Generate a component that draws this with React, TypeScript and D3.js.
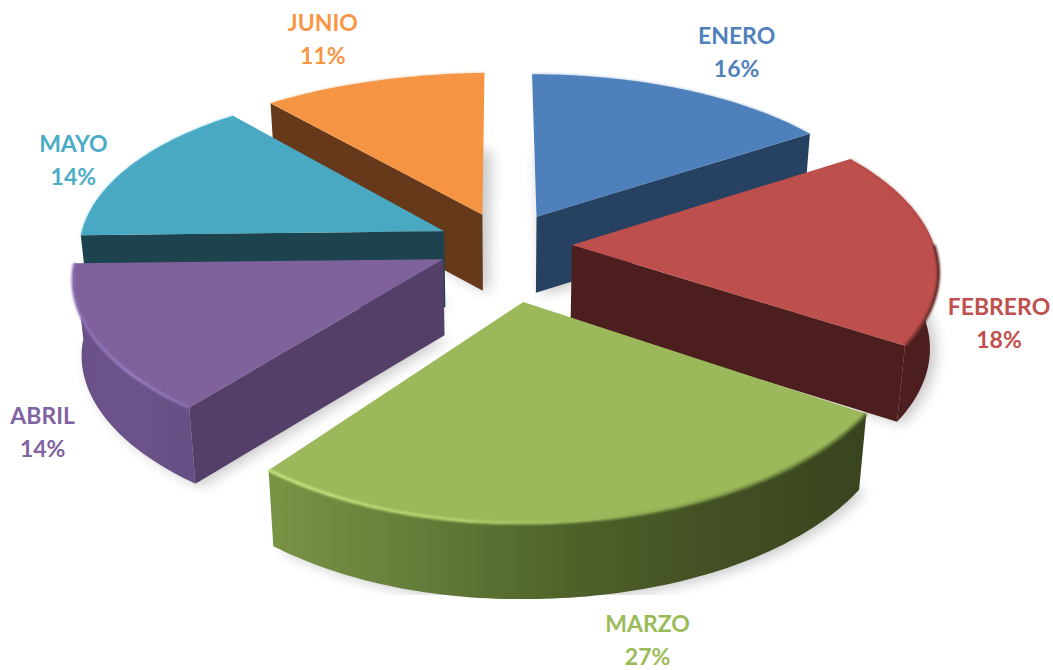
import React from "react";
import * as d3 from "d3";

const months = ["ENERO", "FEBRERO", "MARZO", "ABRIL", "MAYO", "JUNIO"];
const shares = [16, 18, 27, 14, 14, 11];

const explode = [0.185, 0.185, 0.31, 0.185, 0.185, 0.185];
const squash = [1, 0.98, 1, 0.94, 1, 1];
const topColors = ["#4e80bb", "#bd4f4c", "#9bb95a", "#7f619b", "#49a9c3", "#f59543"];
const labelColors = ["#4f81bd", "#c0504d", "#9bbb59", "#8064a2", "#4bacc6", "#f79646"];
const wallColors = ["#264161", "#4d1e1e", "#4a5c28", "#533f68", "#1d444e", "#66391a"];
const outerStops = [
  ["#264161", "#264161"],
  ["#4d1e1e", "#4d1e1e"],
  ["#7a9445", "#647d3a", "#4f6229", "#434f24", "#38441e"],
  ["#6a5088", "#6c5389", "#664f84"],
  ["#1d444e", "#1d444e"],
  ["#66391a", "#66391a"],
];
const rimStops = [
  ["#4e80bb", "#4e80bb"],
  ["#7d3533", "#5a2523"],
  ["#c8e680", "#b4d26e", "#88a44c", "#5c7030"],
  ["#8a6db0", "#9a7cc0", "#8a6dae"],
  ["#49a9c3", "#49a9c3"],
  ["#f59543", "#f59543"],
];
const backRim = ["#5b8cc6", "#7a2f2d", "", "", "#55c0dc", "#e8a468"];
const labelNudge: [number, number][] = [
  [55, -37],
  [65, 78],
  [55, 120],
  [-53, 92],
  [-57, -6],
  [-50, -42],
];
const drawOrder = [5, 0, 4, 1, 3, 2];

const W = 1053;
const H = 670;
const cx = 505;
const cy = 245;
const A_RIGHT = 362;
const A_LEFT = 366;
const K_RIGHT = 0.14;
const K_LEFT = 0.09;
const B = 178;
const KY = 0.15;
const TILT = 4;
const DEPTH = 76;
const BOTTOM_SCALE = 0.98;

const pie = d3.pie<number>().sort(null).startAngle(0).endAngle(2 * Math.PI);
const arcs = pie(shares);
const lineGen = d3.line<[number, number]>().x((d) => d[0]).y((d) => d[1]);

function project(i: number, theta: number, r: number, dz = 0): [number, number] {
  const a = arcs[i];
  const m = (a.startAngle + a.endAngle) / 2;
  const u = explode[i] * Math.sin(m) + r * Math.sin(theta);
  const v = -explode[i] * Math.cos(m) - r * squash[i] * Math.cos(theta);
  const x = u >= 0 ? u * A_RIGHT * (1 + K_RIGHT * v) : u * A_LEFT * (1 + K_LEFT * v);
  const y = v * B * (1 + KY * v) + TILT * r * Math.max(0, -Math.sin(theta));
  return [cx + x * (dz > 0 ? BOTTOM_SCALE : 1), cy + y + dz];
}

function rim(i: number, t0: number, t1: number, dz = 0): [number, number][] {
  const n = Math.max(2, Math.ceil(Math.abs(t1 - t0) / 0.02));
  return d3.range(n + 1).map((k) => project(i, t0 + ((t1 - t0) * k) / n, 1, dz));
}

function sectorPath(i: number, dz = 0): string {
  const a = arcs[i];
  const pts = [project(i, a.startAngle, 0, dz), ...rim(i, a.startAngle, a.endAngle, dz)];
  return lineGen(pts)! + "Z";
}

function radialWall(i: number, theta: number): string {
  const pts = [
    project(i, theta, 0),
    project(i, theta, 1),
    project(i, theta, 1, DEPTH),
    project(i, theta, 0, DEPTH),
  ];
  return lineGen(pts)! + "Z";
}

function frontRange(i: number): [number, number] | null {
  const a = arcs[i];
  const t0 = Math.max(a.startAngle, Math.PI / 2);
  const t1 = Math.min(a.endAngle, (3 * Math.PI) / 2);
  return t1 > t0 ? [t0, t1] : null;
}

function Slice({ i }: { i: number }) {
  const a = arcs[i];
  const range = frontRange(i);
  const walls: number[] = [];
  if (Math.sin(a.startAngle) < -1e-6) walls.push(a.startAngle);
  if (Math.sin(a.endAngle) > 1e-6) walls.push(a.endAngle);
  return (
    <g>
      {walls.map((t) => (
        <path key={t} d={radialWall(i, t)} fill={wallColors[i]} />
      ))}
      {range && (
        <path
          d={
            lineGen([
              ...rim(i, range[0], range[1]),
              ...rim(i, range[1], range[0], DEPTH),
            ])! + "Z"
          }
          fill={`url(#outer${i})`}
        />
      )}
      <path d={sectorPath(i)} fill={topColors[i]} />
      {backRim[i] && (
        <path
          d={lineGen(rim(i, a.startAngle, Math.min(a.endAngle, range ? range[0] : a.endAngle)))!}
          fill="none"
          stroke={backRim[i]}
          strokeWidth={1}
          opacity={0.7}
          filter="url(#soft)"
        />
      )}
      {range && (
        <path
          d={lineGen(rim(i, range[0], range[1]))!}
          fill="none"
          stroke={`url(#rim${i})`}
          strokeWidth={3}
          filter="url(#soft)"
        />
      )}
    </g>
  );
}

export default function App() {
  const defs = arcs.map((_, i) => {
    const r = frontRange(i);
    const xs = r ? rim(i, r[0], r[1]).map((p) => p[0]) : [0, 1];
    const x1 = d3.min(xs)!;
    const x2 = d3.max(xs)!;
    const grad = (id: string, stops: string[]) => (
      <linearGradient key={id} id={id} gradientUnits="userSpaceOnUse" x1={x1} x2={x2} y1={0} y2={0}>
        {stops.map((c, k) => (
          <stop key={k} offset={k / (stops.length - 1)} stopColor={c} />
        ))}
      </linearGradient>
    );
    return [grad(`outer${i}`, outerStops[i]), grad(`rim${i}`, rimStops[i])];
  });
  return (
    <svg
      width={W}
      height={H}
      viewBox={`0 0 ${W} ${H}`}
      style={{ position: "absolute", left: 0, top: 0, background: "#fff" }}
    >
      <defs>
        {defs}
        <filter id="soft" x="-10%" y="-10%" width="120%" height="120%">
          <feGaussianBlur stdDeviation={0.8} />
        </filter>
        <filter id="shadow" x="-20%" y="-20%" width="140%" height="140%">
          <feGaussianBlur stdDeviation={7} />
        </filter>
        <clipPath id="shadowClip">
          <rect x={0} y={0} width={W} height={595} />
        </clipPath>
      </defs>
      <g clipPath="url(#shadowClip)">
        {arcs.map((_, i) => (
          <path
            key={i}
            d={sectorPath(i, DEPTH)}
            transform="translate(6,2)"
            fill="#000"
            opacity={0.22}
            filter="url(#shadow)"
          />
        ))}
      </g>
      {drawOrder.map((i) => (
        <Slice key={i} i={i} />
      ))}
      {arcs.map((a, i) => {
        const m = (a.startAngle + a.endAngle) / 2;
        const [x, y] = project(i, m, 1);
        const lx = x + labelNudge[i][0];
        const ly = y + labelNudge[i][1];
        return (
          <g
            key={months[i]}
            fill={labelColors[i]}
            fontFamily="Lato, 'Open Sans', sans-serif"
            fontWeight={700}
            fontSize={23}
            textAnchor="middle"
          >
            <text x={lx} y={ly - 8}>{months[i]}</text>
            <text x={lx} y={ly + 25}>{`${shares[i]}%`}</text>
          </g>
        );
      })}
    </svg>
  );
}
